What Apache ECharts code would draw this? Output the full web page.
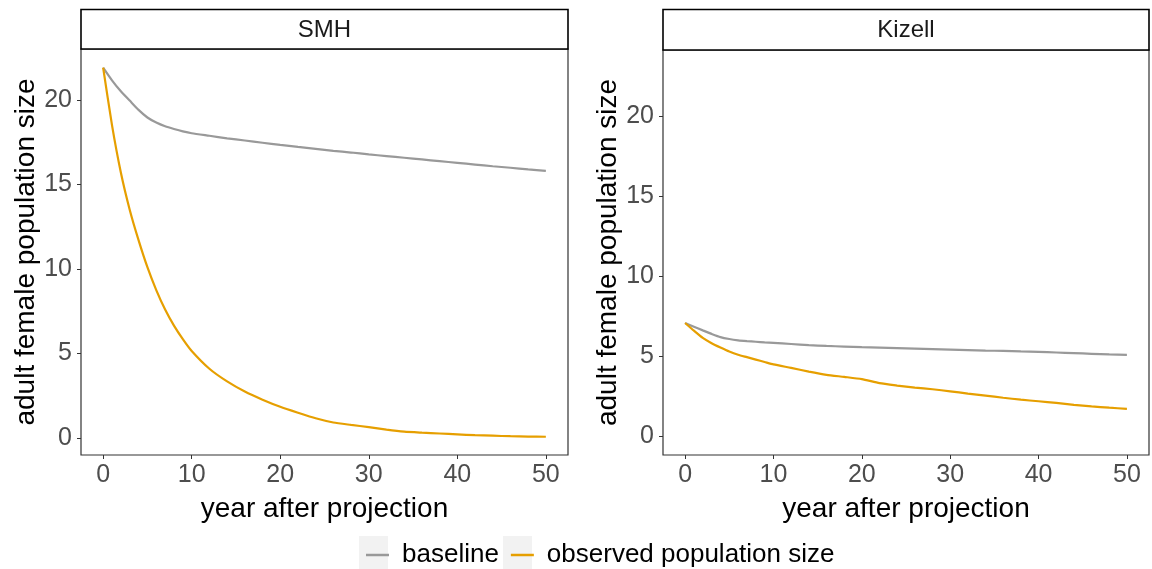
<!DOCTYPE html>
<html>
<head>
<meta charset="utf-8">
<script src="https://cdn.jsdelivr.net/npm/echarts@6/dist/echarts.min.js"></script>
<style>html,body{margin:0;padding:0;background:#fff;}#chart{width:1152px;height:569px;}</style>
</head>
<body>
<div id="chart"></div>
<script>
const panels = ['SMH', 'Kizell'];
const seriesNames = ['baseline', 'observed population size'];
const xTicks = [0, 10, 20, 30, 40, 50];
const yTicks = [0, 5, 10, 15, 20];
const years = [0,1,2,3,4,5,6,7,8,9,10,12,14,16,18,20,22,24,26,28,30,32,34,36,38,40,42,44,46,48,50];

const smhBaseline = [21.9,21.15,20.5,19.95,19.4,18.95,18.65,18.43,18.27,18.13,18.02,17.87,17.72,17.59,17.46,17.33,17.21,17.1,16.98,16.88,16.77,16.67,16.57,16.47,16.37,16.27,16.17,16.07,15.98,15.88,15.8];
const smhObserved = [21.9,18.5,15.7,13.5,11.7,10.1,8.75,7.6,6.65,5.85,5.15,4.1,3.35,2.75,2.27,1.85,1.5,1.17,0.92,0.78,0.65,0.5,0.38,0.32,0.27,0.22,0.17,0.14,0.11,0.09,0.08];
const kizBaseline = [7.08,6.85,6.62,6.4,6.2,6.08,6.0,5.95,5.91,5.87,5.84,5.77,5.7,5.65,5.61,5.57,5.54,5.51,5.48,5.45,5.42,5.39,5.36,5.34,5.31,5.28,5.24,5.2,5.16,5.12,5.09];
const kizObserved = [7.08,6.6,6.15,5.82,5.55,5.3,5.1,4.95,4.8,4.65,4.5,4.28,4.05,3.85,3.72,3.58,3.33,3.18,3.05,2.95,2.82,2.68,2.55,2.42,2.3,2.2,2.1,1.98,1.88,1.8,1.73];

const FONT = '"Liberation Sans", Arial, sans-serif';
const colors = ['#999999', '#E69F00'];
const pair = arr => years.map((y, i) => [y, arr[i]]);

function xAxis(idx) {
  return {
    type: 'value', gridIndex: idx, min: -2.5, max: 52.5, position: 'bottom',
    name: 'year after projection', nameLocation: 'middle', nameGap: 40,
    nameTextStyle: { fontSize: 28, color: '#000', fontFamily: FONT },
    axisLine: { show: false, onZero: false },
    axisTick: { show: true, length: 4, lineStyle: { color: '#333' }, customValues: xTicks },
    axisLabel: { fontSize: 25, color: '#4D4D4D', fontFamily: FONT, margin: 8, customValues: xTicks },
    splitLine: { show: false }
  };
}
function yAxis(idx, min, max) {
  return {
    type: 'value', gridIndex: idx, min: min, max: max, position: 'left',
    name: 'adult female population size', nameLocation: 'middle', nameGap: 40, nameRotate: 90,
    nameTextStyle: { fontSize: 28, color: '#000', fontFamily: FONT },
    axisLine: { show: false, onZero: false },
    axisTick: { show: true, length: 4, lineStyle: { color: '#333' }, customValues: yTicks },
    axisLabel: { fontSize: 25, color: '#4D4D4D', fontFamily: FONT, margin: 9, customValues: yTicks },
    splitLine: { show: false }
  };
}
function line(name, idx, data, color) {
  return {
    type: 'line', name: name, xAxisIndex: idx, yAxisIndex: idx, data: data,
    showSymbol: false, symbol: 'none', smooth: 0.2, color: color,
    lineStyle: { color: color, width: 2.2 }, z: 3
  };
}

const chart = echarts.init(document.getElementById('chart'), null, { renderer: 'canvas' });
chart.setOption({
  animation: false,
  backgroundColor: '#fff',
  grid: [
    { left: 81, right: 584, top: 49, bottom: 114, show: true, borderColor: '#333', borderWidth: 1.2, containLabel: false },
    { left: 663, right: 3, top: 50, bottom: 114, show: true, borderColor: '#333', borderWidth: 1.2, containLabel: false }
  ],
  xAxis: [xAxis(0), xAxis(1)],
  yAxis: [yAxis(0, -1.0, 23.0), yAxis(1, -1.15, 24.1)],
  legend: {
    left: 361, top: 537, itemWidth: 23, itemHeight: 2.5, icon: 'rect', itemGap: 12,
    textStyle: { fontSize: 26, color: '#000', fontFamily: FONT, padding: [0, 0, 0, 8] },
    data: seriesNames
  },
  graphic: [
    { type: 'rect', shape: { x: 81, y: 9.5, width: 487, height: 39.5 }, style: { fill: '#fff', stroke: '#000', lineWidth: 1.6 }, z: 5 },
    { type: 'rect', shape: { x: 663, y: 9.5, width: 486, height: 40.5 }, style: { fill: '#fff', stroke: '#000', lineWidth: 1.6 }, z: 5 },
    { type: 'text', x: 324.5, y: 30, style: { text: panels[0], fontSize: 24, fill: '#1A1A1A', fontFamily: FONT, align: 'center', verticalAlign: 'middle' }, z: 6 },
    { type: 'text', x: 906, y: 30, style: { text: panels[1], fontSize: 24, fill: '#1A1A1A', fontFamily: FONT, align: 'center', verticalAlign: 'middle' }, z: 6 },
    { type: 'rect', shape: { x: 359, y: 536, width: 29, height: 33 }, style: { fill: '#F2F2F2' }, z: 0 },
    { type: 'rect', shape: { x: 503, y: 536, width: 29, height: 33 }, style: { fill: '#F2F2F2' }, z: 0 }
  ],
  series: [
    line(seriesNames[0], 0, pair(smhBaseline), colors[0]),
    line(seriesNames[1], 0, pair(smhObserved), colors[1]),
    line(seriesNames[0], 1, pair(kizBaseline), colors[0]),
    line(seriesNames[1], 1, pair(kizObserved), colors[1])
  ]
});
</script>
</body>
</html>
